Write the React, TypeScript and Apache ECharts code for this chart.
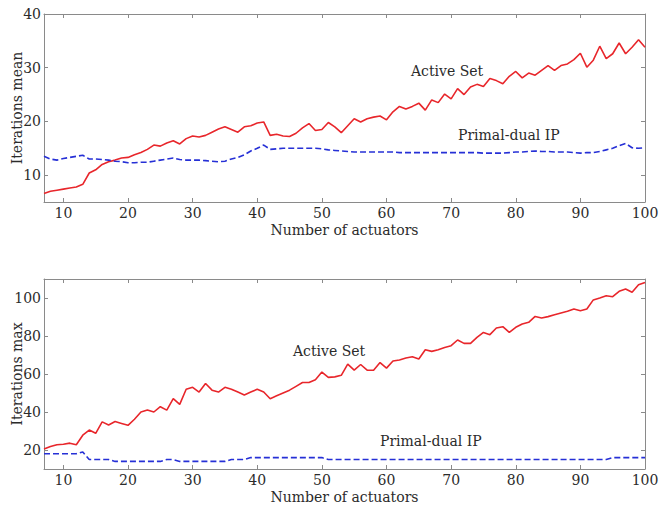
import React, { useEffect, useRef } from "react";
import * as echarts from "echarts";

const actuators: number[] = Array.from({ length: 94 }, (_, i) => i + 7);

const meanActiveSet: number[] = [
  6.6, 7.0, 7.2, 7.4, 7.6, 7.8, 8.3, 10.4, 11.0, 12.0, 12.5, 12.8, 13.2, 13.3,
  13.8, 14.2, 14.8, 15.6, 15.4, 16.0, 16.4, 15.8, 16.8, 17.3, 17.1, 17.4, 18.0,
  18.6, 19.0, 18.5, 18.0, 19.0, 19.2, 19.7, 19.9, 17.4, 17.6, 17.3, 17.2, 17.8,
  18.8, 19.6, 18.3, 18.5, 19.8, 19.0, 17.9, 19.2, 20.5, 19.9, 20.5, 20.8, 21.0,
  20.3, 21.8, 22.8, 22.3, 22.8, 23.4, 22.1, 24.0, 23.5, 25.1, 24.2, 26.1, 25.0,
  26.4, 26.9, 26.5, 28.0, 27.6, 27.0, 28.4, 29.3, 28.1, 29.0, 28.6, 29.5, 30.4,
  29.5, 30.4, 30.7, 31.5, 32.7, 30.1, 31.4, 34.0, 31.7, 32.6, 34.6, 32.6, 33.8,
  35.2, 33.8,
];

const meanPrimalDual: number[] = [
  13.5, 13.0, 12.8, 13.1, 13.3, 13.5, 13.7, 13.0, 13.0, 12.9, 12.8, 12.6, 12.5,
  12.3, 12.3, 12.4, 12.4, 12.6, 12.8, 13.0, 13.2, 12.9, 12.8, 12.8, 12.8, 12.7,
  12.6, 12.5, 12.6, 13.0, 13.3, 13.8, 14.5, 15.0, 15.6, 14.8, 14.9, 15.0, 15.0,
  15.0, 15.0, 15.0, 15.0, 14.9, 14.7, 14.6, 14.5, 14.4, 14.3, 14.3, 14.3, 14.3,
  14.3, 14.3, 14.3, 14.2, 14.2, 14.2, 14.2, 14.2, 14.2, 14.2, 14.2, 14.2, 14.2,
  14.2, 14.2, 14.2, 14.1, 14.1, 14.1, 14.1, 14.2, 14.3, 14.3, 14.4, 14.5, 14.4,
  14.4, 14.3, 14.3, 14.3, 14.2, 14.1, 14.2, 14.2, 14.4, 14.7, 15.0, 15.5, 15.9,
  15.1, 15.0, 15.1,
];

const maxActiveSet: number[] = [
  20.5, 21.8, 22.8, 23.0, 23.6, 22.8, 27.8, 30.5, 28.8, 34.8, 33.2, 35.0, 34.0,
  33.0, 36.2, 40.0, 41.0, 40.0, 42.8, 41.0, 47.0, 44.0, 52.0, 53.0, 50.5, 55.0,
  51.5, 50.5, 53.0, 52.0, 50.5, 49.0, 50.5, 52.0, 50.5, 47.0, 48.5, 50.0, 51.5,
  53.5, 55.5, 55.5, 57.0, 61.0, 58.2, 58.5, 59.3, 65.2, 62.0, 65.0, 62.0, 62.0,
  66.0, 63.1, 66.8, 67.4, 68.4, 69.1, 67.9, 72.8, 71.9, 72.8, 74.0, 74.9, 77.9,
  76.1, 76.1, 79.3, 81.9, 80.7, 84.2, 84.9, 81.9, 84.6, 86.3, 87.2, 90.3, 89.5,
  90.2, 91.2, 92.1, 93.0, 94.2, 93.3, 94.2, 99.0, 100.0, 101.2, 100.7, 103.5,
  104.7, 103.0, 107.0, 108.2,
];

const maxPrimalDual: number[] = [
  18, 18, 18, 18, 18, 18, 19, 15, 15, 15, 15, 14, 14, 14, 14, 14, 14, 14, 14,
  15, 15, 14, 14, 14, 14, 14, 14, 14, 14, 15, 15, 15, 16, 16, 16, 16, 16, 16,
  16, 16, 16, 16, 16, 16, 15, 15, 15, 15, 15, 15, 15, 15, 15, 15, 15, 15, 15,
  15, 15, 15, 15, 15, 15, 15, 15, 15, 15, 15, 15, 15, 15, 15, 15, 15, 15, 15,
  15, 15, 15, 15, 15, 15, 15, 15, 15, 15, 15, 15, 16, 16, 16, 16, 16, 16,
];

const xTicks = [10, 20, 30, 40, 50, 60, 70, 80, 90, 100];
const meanTicks = [10, 20, 30, 40];
const maxTicks = [20, 40, 60, 80, 100];

const FONT = "DejaVu Serif";
const FRAME = "#8a8a8a";
const TEXT = "#2b2b2b";
const RED = "#e8262b";
const BLUE = "#2630d6";

function pairs(ys: number[]) {
  return actuators.map((x, i) => [x, ys[i]]);
}

function xAxisPair(grid: number) {
  const base = {
    type: "value",
    gridIndex: grid,
    min: 7,
    max: 100,
    splitLine: { show: false },
    axisLine: { show: true, lineStyle: { color: FRAME, width: 1 } },
    axisTick: {
      show: true,
      inside: true,
      length: 4,
      customValues: xTicks,
      lineStyle: { color: FRAME },
    },
  };
  return [
    {
      ...base,
      position: "bottom",
      name: "Number of actuators",
      nameLocation: "middle",
      nameGap: 20,
      nameMoveOverlap: false,
      nameTextStyle: { fontFamily: FONT, fontSize: 14, color: TEXT, lineHeight: 16 },
      axisLabel: {
        show: true,
        customValues: xTicks,
        fontFamily: FONT,
        fontSize: 14,
        lineHeight: 16,
        color: TEXT,
        margin: 3,
      },
    },
    { ...base, position: "top", axisLabel: { show: false } },
  ];
}

function yAxisPair(grid: number, min: number, max: number, ticks: number[], name: string) {
  const base = {
    type: "value",
    gridIndex: grid,
    min,
    max,
    splitLine: { show: false },
    axisLine: { show: true, lineStyle: { color: FRAME, width: 1 } },
    axisTick: {
      show: true,
      inside: true,
      length: 4,
      customValues: ticks,
      lineStyle: { color: FRAME },
    },
  };
  return [
    {
      ...base,
      position: "left",
      name,
      nameLocation: "middle",
      nameGap: 20,
      nameMoveOverlap: false,
      nameTextStyle: { fontFamily: FONT, fontSize: 14, color: TEXT },
      axisLabel: {
        show: true,
        customValues: ticks,
        fontFamily: FONT,
        fontSize: 14,
        color: TEXT,
        margin: 3,
      },
    },
    { ...base, position: "right", axisLabel: { show: false } },
  ];
}

export default function App() {
  const ref = useRef<HTMLDivElement>(null);

  useEffect(() => {
    if (!ref.current) return;
    const chart = echarts.init(ref.current, undefined, { renderer: "svg" });
    const textStyle = { fontFamily: FONT, fontSize: 14, fill: TEXT };
    chart.setOption({
      animation: false,
      backgroundColor: "#ffffff",
      grid: [
        { left: 44, top: 14, width: 601, height: 188, containLabel: false, outerBoundsMode: "none" },
        { left: 44, top: 279, width: 601, height: 190, containLabel: false, outerBoundsMode: "none" },
      ],
      xAxis: [...xAxisPair(0), ...xAxisPair(1)],
      yAxis: [
        ...yAxisPair(0, 5, 40, meanTicks, "Iterations mean"),
        ...yAxisPair(1, 10, 110, maxTicks, "Iterations max"),
      ],
      series: [
        {
          name: "Active Set (mean)",
          type: "line",
          xAxisIndex: 0,
          yAxisIndex: 0,
          data: pairs(meanActiveSet),
          showSymbol: false,
          lineStyle: { color: RED, width: 1.6 },
        },
        {
          name: "Primal-dual IP (mean)",
          type: "line",
          xAxisIndex: 0,
          yAxisIndex: 0,
          data: pairs(meanPrimalDual),
          showSymbol: false,
          lineStyle: { color: BLUE, width: 1.6, type: [6, 3] },
        },
        {
          name: "Active Set (max)",
          type: "line",
          xAxisIndex: 2,
          yAxisIndex: 2,
          data: pairs(maxActiveSet),
          showSymbol: false,
          lineStyle: { color: RED, width: 1.6 },
        },
        {
          name: "Primal-dual IP (max)",
          type: "line",
          xAxisIndex: 2,
          yAxisIndex: 2,
          data: pairs(maxPrimalDual),
          showSymbol: false,
          lineStyle: { color: BLUE, width: 1.6, type: [6, 3] },
        },
      ],
      graphic: [
        { type: "text", left: 411, top: 64, style: { text: "Active Set", ...textStyle } },
        { type: "text", left: 458, top: 128, style: { text: "Primal-dual IP", ...textStyle } },
        { type: "text", left: 293, top: 344, style: { text: "Active Set", ...textStyle } },
        { type: "text", left: 380, top: 434, style: { text: "Primal-dual IP", ...textStyle } },
      ],
    });
    return () => chart.dispose();
  }, []);

  return (
    <div
      ref={ref}
      style={{ position: "fixed", left: 0, top: 0, width: 659, height: 507, background: "#fff" }}
    />
  );
}
